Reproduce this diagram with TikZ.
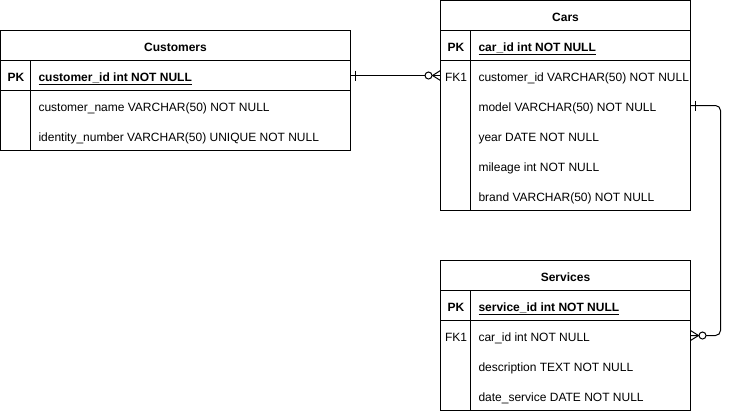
\documentclass[tikz,border=0pt]{standalone}
\usepackage{fontspec}
\setmainfont{Liberation Sans}
\begin{document}
\begin{tikzpicture}[x=1bp,y=-1bp,line width=1bp,
  every node/.style={inner sep=0pt,outer sep=0pt,font=\fontsize{12bp}{14bp}\selectfont},
  box/.style={draw,anchor=north west,minimum height=30bp},
  titlebox/.style={text height=11bp,text depth=0pt,font=\fontsize{12bp}{14bp}\selectfont\bfseries},
  rowarea/.style={anchor=north west,minimum height=30bp},
  txt/.style={anchor=west,text height=11bp,text depth=0pt},
  boldtxt/.style={txt,font=\fontsize{12bp}{14bp}\selectfont\bfseries},
  keytxt/.style={txt,anchor=center},
  keybold/.style={boldtxt,anchor=center},
  link/.style={line width=1bp},
  ring/.style={draw,fill=white,line width=1bp}
]
\useasboundingbox (-0.5,-0.5) rectangle (729.5,410.5);

% ---------- Customers ----------
\node[box,titlebox,minimum width=350bp] (cust) at (0,30) {Customers};
\node[box,minimum width=350bp] (cust-pk) at (0,60) {};
\node[box,minimum width=350bp,minimum height=60bp] (cust-body) at (0,90) {};
\draw ([xshift=30bp]cust-pk.north west) -- ([xshift=30bp]cust-body.south west);
\node[keybold] (cust-pkk) at (15.5,75) {PK};
\node[boldtxt] (cust-pkt) at (38,75) {\underline{customer\_id int NOT NULL}};
\node[txt] (cust-f1) at (38,105) {customer\_name VARCHAR(50) NOT NULL};
\node[txt] (cust-f2) at (38,135) {identity\_number VARCHAR(50) UNIQUE NOT NULL};

% ---------- Cars ----------
\node[box,titlebox,minimum width=250bp] (cars) at (440,0) {Cars};
\node[box,minimum width=250bp] (cars-pk) at (440,30) {};
\node[box,minimum width=250bp,minimum height=150bp] (cars-body) at (440,60) {};
\draw ([xshift=30bp]cars-pk.north west) -- ([xshift=30bp]cars-body.south west);
\node[rowarea,minimum width=250bp] (cars-fk) at (440,60) {};
\node[rowarea,minimum width=250bp] (cars-model) at (440,90) {};
\node[keybold] (cars-pkk) at (455.5,45) {PK};
\node[boldtxt] (cars-pkt) at (478,45) {\underline{car\_id int NOT NULL}};
\node[keytxt] (cars-fkk) at (455.5,75) {FK1};
\node[txt] (cars-f1) at (478,75) {customer\_id VARCHAR(50) NOT NULL};
\node[txt] (cars-f2) at (478,105) {model VARCHAR(50) NOT NULL};
\node[txt] (cars-f3) at (478,135) {year DATE NOT NULL};
\node[txt] (cars-f4) at (478,165) {mileage int NOT NULL};
\node[txt] (cars-f5) at (478,195) {brand VARCHAR(50) NOT NULL};

% ---------- Services ----------
\node[box,titlebox,minimum width=250bp] (serv) at (440,260) {Services};
\node[box,minimum width=250bp] (serv-pk) at (440,290) {};
\node[box,minimum width=250bp,minimum height=90bp] (serv-body) at (440,320) {};
\draw ([xshift=30bp]serv-pk.north west) -- ([xshift=30bp]serv-body.south west);
\node[rowarea,minimum width=250bp] (serv-fk) at (440,320) {};
\node[keybold] (serv-pkk) at (455.5,305) {PK};
\node[boldtxt] (serv-pkt) at (478,305) {\underline{service\_id int NOT NULL}};
\node[keytxt] (serv-fkk) at (455.5,335) {FK1};
\node[txt] (serv-f1) at (478,335) {car\_id int NOT NULL};
\node[txt] (serv-f2) at (478,365) {description TEXT NOT NULL};
\node[txt] (serv-f3) at (478,395) {date\_service DATE NOT NULL};

% ---------- Customers -> Cars ----------
\draw[link] (cust-pk.east) -- (cars-fk.west);
\draw[link] ([xshift=5bp]cust-pk.east) ++(0,-5) -- ++(0,10);
\draw[link] ([xshift=-8bp]cars-fk.west) -- ++(8,-5)
            ([xshift=-8bp]cars-fk.west) -- ++(8,5);
\draw[ring] ([xshift=-12bp]cars-fk.west) circle[radius=3.5bp];

% ---------- Cars -> Services ----------
\draw[link,rounded corners=5bp] (cars-model.east) -- ++(30,0) |- (serv-fk.east);
\draw[link] ([xshift=5bp]cars-model.east) ++(0,-5) -- ++(0,10);
\draw[link] ([xshift=8bp]serv-fk.east) -- ++(-8,-5)
            ([xshift=8bp]serv-fk.east) -- ++(-8,5);
\draw[ring] ([xshift=12bp]serv-fk.east) circle[radius=3.5bp];
\end{tikzpicture}
\end{document}
